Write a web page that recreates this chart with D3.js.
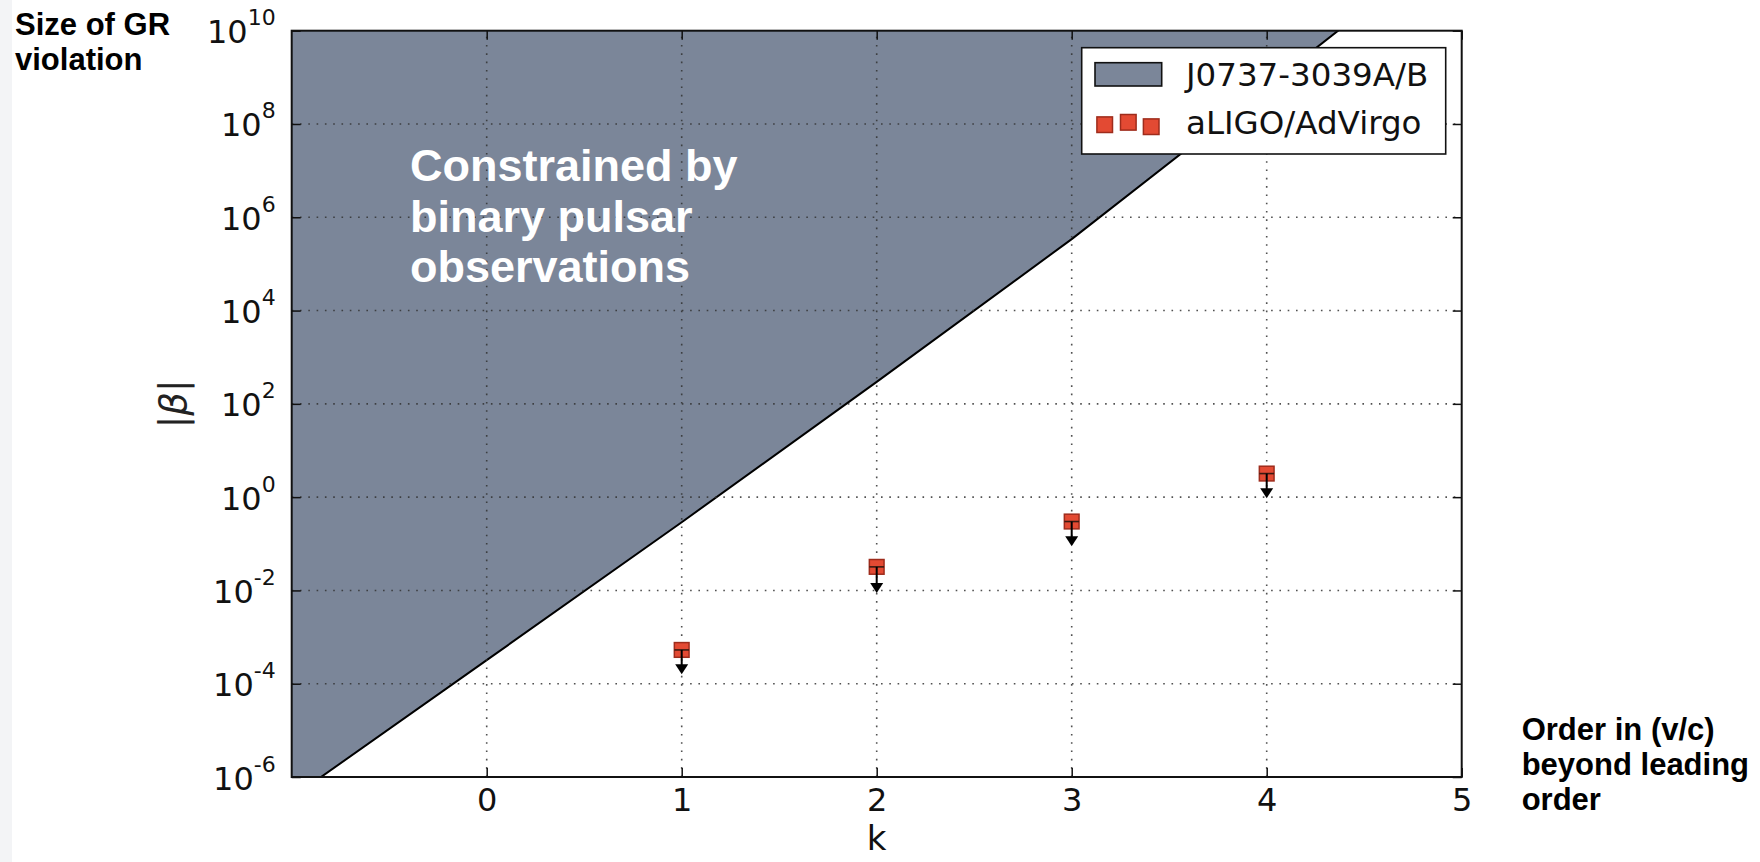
<!DOCTYPE html>
<html>
<head>
<meta charset="utf-8">
<script src="https://cdn.jsdelivr.net/npm/d3@7"></script>
<style>
  html, body { margin: 0; padding: 0; background: #ffffff; }
  svg { display: block; }
</style>
</head>
<body>
<svg id="chart" width="1760" height="862"></svg>
<script>
// Order of the post-Newtonian correction, k
const kTicks = [0, 1, 2, 3, 4, 5];
// Decade exponents shown on the |beta| axis
const betaTickExponents = [-6, -4, -2, 0, 2, 4, 6, 8, 10];

// Double pulsar bound on |beta| as a function of k
const pulsarK = [-1, 0, 1, 2, 3, 4, 5];
const pulsarBeta = [3.6e-7, 3.2e-4, 2.9e-1, 2.95e2, 3.4e5, 6.3e8, 1.2e12];

// Projected aLIGO/AdVirgo upper limits
const ligoK = [1, 2, 3, 4];
const ligoBeta = [5.3e-4, 3.2e-2, 3.0e-1, 3.2e0];
const ligoArrowTo = [1.6e-4, 8.8e-3, 8.9e-2, 9.5e-1];

const legendLabels = ["J0737-3039A/B", "aLIGO/AdVirgo"];

const svg = d3.select("#chart");
const W = 1760, H = 862;
const plot = { left: 291.7, right: 1461.7, top: 30.7, bottom: 777 };

const x = d3.scaleLinear().domain([-1, 5]).range([plot.left, plot.right]);
const y = d3.scaleLog().domain([1e-6, 1e10]).range([plot.bottom, plot.top]);

const fillColor = "#7b8699";
const redFill = "#e34a33";
const redEdge = "#9e2c1c";
const tickFont = "'DejaVu Sans', 'Bitstream Vera Sans', sans-serif";
const boldFont = "'Liberation Sans', Arial, Helvetica, sans-serif";

svg.append("rect").attr("width", W).attr("height", H).attr("fill", "#ffffff");
svg.append("rect").attr("x", 0).attr("y", 0).attr("width", 12).attr("height", H).attr("fill", "#f3f4f6");

svg.append("defs").append("clipPath").attr("id", "plot-clip")
  .append("rect")
  .attr("x", plot.left).attr("y", plot.top)
  .attr("width", plot.right - plot.left).attr("height", plot.bottom - plot.top);

const pulsarPts = pulsarK.map((k, i) => ({ k, b: pulsarBeta[i] }));

// Excluded region: everything above the pulsar bound
const area = d3.area()
  .x(d => x(d.k))
  .y0(plot.top)
  .y1(d => y(d.b));

const clipped = svg.append("g").attr("clip-path", "url(#plot-clip)");
clipped.append("path")
  .datum(pulsarPts)
  .attr("d", area)
  .attr("fill", fillColor);
clipped.append("path")
  .datum(pulsarPts)
  .attr("d", d3.line().x(d => x(d.k)).y(d => y(d.b)))
  .attr("fill", "none")
  .attr("stroke", "#000")
  .attr("stroke-width", 2);

// Dotted grid
const grid = svg.append("g").attr("stroke", "#333").attr("stroke-width", 1.6)
  .attr("stroke-dasharray", "1.6,6.7").attr("opacity", 0.85);
grid.selectAll("line.gx").data(kTicks.filter(k => k < 5)).join("line")
  .attr("x1", d => x(d)).attr("x2", d => x(d))
  .attr("y1", plot.bottom).attr("y2", plot.top);
grid.selectAll("line.gy").data(betaTickExponents.slice(1, -1)).join("line")
  .attr("x1", plot.left).attr("x2", plot.right)
  .attr("y1", d => y(Math.pow(10, d))).attr("y2", d => y(Math.pow(10, d)));

// Axes with inward ticks on all four sides
const tickLen = 9;
const yTickVals = betaTickExponents.map(e => Math.pow(10, e));

const gBottom = svg.append("g").attr("transform", `translate(0,${plot.bottom})`)
  .call(d3.axisBottom(x).tickValues(kTicks).tickSizeInner(-tickLen).tickSizeOuter(0).tickPadding(11)
    .tickFormat(d3.format("d")));
const gTop = svg.append("g").attr("transform", `translate(0,${plot.top})`)
  .call(d3.axisTop(x).tickValues(kTicks).tickSizeInner(-tickLen).tickSizeOuter(0).tickFormat(""));
const gLeft = svg.append("g").attr("transform", `translate(${plot.left},0)`)
  .call(d3.axisLeft(y).tickValues(yTickVals).tickSizeInner(-tickLen).tickSizeOuter(0).tickPadding(16)
    .tickFormat(""));
const gRight = svg.append("g").attr("transform", `translate(${plot.right},0)`)
  .call(d3.axisRight(y).tickValues(yTickVals).tickSizeInner(-tickLen).tickSizeOuter(0).tickFormat(""));

[gBottom, gTop, gLeft, gRight].forEach(g => {
  g.select(".domain").remove();
  g.selectAll(".tick line").attr("stroke", "#111").attr("stroke-width", 1.5);
});

gBottom.selectAll(".tick text")
  .attr("font-family", tickFont).attr("font-size", 32).attr("fill", "#111")
  .attr("dy", "0.71em");

// Power-of-ten labels with superscript exponents
gLeft.selectAll(".tick").each(function (d) {
  const exp = Math.round(Math.log10(d));
  const t = d3.select(this).select("text")
    .attr("x", -16).attr("dy", null).attr("y", 12)
    .attr("font-family", tickFont).attr("font-size", 32).attr("fill", "#111")
    .attr("text-anchor", "end");
  t.text(null);
  t.append("tspan").text("10");
  t.append("tspan").attr("font-size", 22).attr("dy", -18).text(String(exp));
});

// Frame
svg.append("rect")
  .attr("x", plot.left).attr("y", plot.top)
  .attr("width", plot.right - plot.left).attr("height", plot.bottom - plot.top)
  .attr("fill", "none").attr("stroke", "#111").attr("stroke-width", 2);

// aLIGO/AdVirgo upper limits: square marker with a downward arrow
const ligo = ligoK.map((k, i) => ({ k, b: ligoBeta[i], to: ligoArrowTo[i] }));
const sq = 14.7;
const mk = svg.append("g");
mk.selectAll("rect").data(ligo).join("rect")
  .attr("x", d => x(d.k) - sq / 2).attr("y", d => y(d.b) - sq / 2)
  .attr("width", sq).attr("height", sq)
  .attr("fill", redFill).attr("stroke", redEdge).attr("stroke-width", 1.5);
mk.selectAll("line.cap").data(ligo).join("line").attr("class", "cap")
  .attr("x1", d => x(d.k) - sq / 2).attr("x2", d => x(d.k) + sq / 2)
  .attr("y1", d => y(d.b)).attr("y2", d => y(d.b))
  .attr("stroke", "#3b1a12").attr("stroke-width", 1.6);
mk.selectAll("line.stem").data(ligo).join("line").attr("class", "stem")
  .attr("x1", d => x(d.k)).attr("x2", d => x(d.k))
  .attr("y1", d => y(d.b)).attr("y2", d => y(d.to) - 6)
  .attr("stroke", "#000").attr("stroke-width", 2);
mk.selectAll("path.head").data(ligo).join("path").attr("class", "head")
  .attr("d", d => {
    const cx = x(d.k), ty = y(d.to);
    return `M${cx - 6.5},${ty - 10} L${cx + 6.5},${ty - 10} L${cx},${ty} Z`;
  })
  .attr("fill", "#000");

// Legend
const lg = svg.append("g");
lg.append("rect").attr("x", 1081.7).attr("y", 47.7).attr("width", 364).attr("height", 106.3)
  .attr("fill", "#fff").attr("stroke", "#111").attr("stroke-width", 1.6);
lg.append("rect").attr("x", 1095).attr("y", 62.7).attr("width", 66.7).attr("height", 23.3)
  .attr("fill", fillColor).attr("stroke", "#111").attr("stroke-width", 1.6);
const legendScatter = [[1104.7, 124.7], [1128.3, 122.3], [1151.2, 126.7]];
lg.selectAll("rect.ls").data(legendScatter).join("rect").attr("class", "ls")
  .attr("x", d => d[0] - 7.8).attr("y", d => d[1] - 7.8).attr("width", 15.6).attr("height", 15.6)
  .attr("fill", redFill).attr("stroke", redEdge).attr("stroke-width", 1.5);
lg.selectAll("text").data(legendLabels).join("text")
  .attr("x", 1186).attr("y", (d, i) => 86 + i * 47.5)
  .attr("font-family", tickFont).attr("font-size", 32.5).attr("fill", "#111")
  .text(d => d);

// Axis titles
svg.append("text")
  .attr("x", x(2)).attr("y", 850)
  .attr("text-anchor", "middle")
  .attr("font-family", tickFont).attr("font-size", 34).attr("fill", "#111")
  .text("k");

const yLab = svg.append("text")
  .attr("transform", `translate(186,${(plot.top + plot.bottom) / 2}) rotate(-90)`)
  .attr("text-anchor", "middle")
  .attr("font-family", tickFont).attr("font-size", 37).attr("fill", "#222");
yLab.append("tspan").text("|");
yLab.append("tspan").attr("font-style", "italic").text("β");
yLab.append("tspan").text("|");

// Annotations
function boldLines(lines, x0, y0, step, size, color) {
  const t = svg.append("text")
    .attr("font-family", boldFont).attr("font-weight", "bold")
    .attr("font-size", size).attr("fill", color);
  lines.forEach((s, i) => {
    t.append("tspan").attr("x", x0).attr("y", y0 + i * step).text(s);
  });
}
boldLines(["Size of GR", "violation"], 15, 35, 35, 31, "#000");
boldLines(["Order in (v/c)", "beyond leading", "order"], 1521.7, 740, 35, 31, "#000");
boldLines(["Constrained by", "binary pulsar", "observations"], 410, 181, 50.5, 45, "#ffffff");
</script>
</body>
</html>
